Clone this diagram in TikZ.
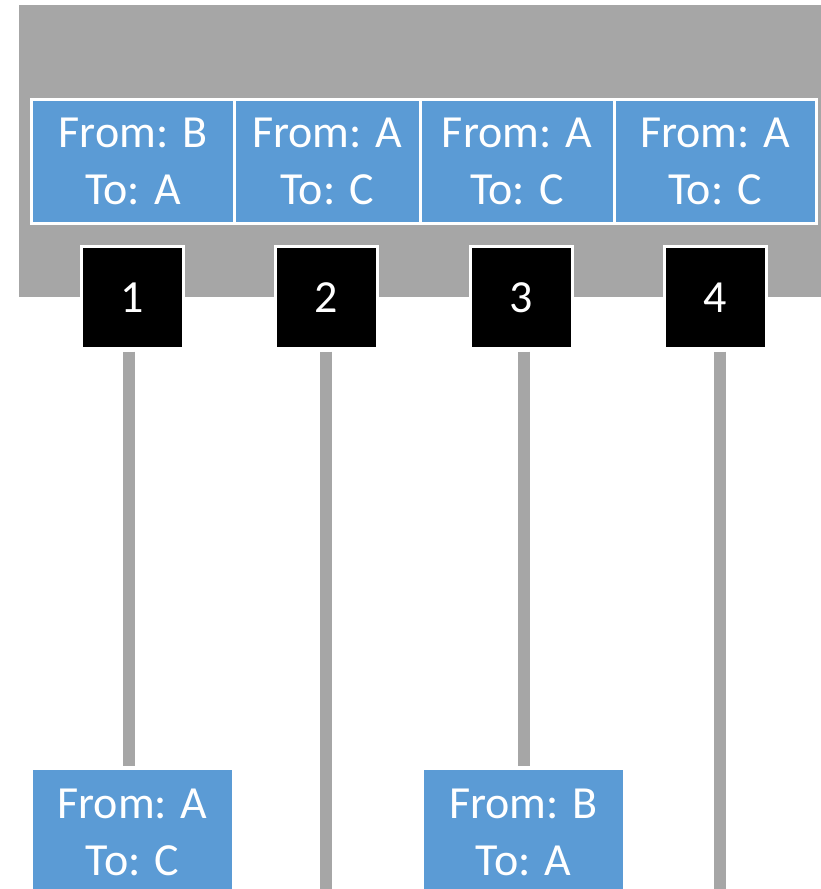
\documentclass[tikz,border=0pt]{standalone}
\usepackage{fontspec}
\setmainfont{Carlito}
\usetikzlibrary{positioning}
\definecolor{Slot}{HTML}{A6A6A6}
\definecolor{Msg}{HTML}{5B9BD5}

\begin{document}
\begin{tikzpicture}[x=1pt, y=-1pt, every node/.style={font=\fontsize{46}{57}\selectfont, text=white, inner sep=0pt, outer sep=0pt, align=center}]
  \useasboundingbox (0,0) rectangle (821,889);
  \clip (0,0) rectangle (821,889);
  \fill[Slot] (19,5) rectangle (821,297);
  % queue slots
  \node[fill=Msg, draw=white, line width=3pt, minimum width=203pt, minimum height=124pt] (q1) at (133,161.5) {From: B\\To: A};
  \node[fill=Msg, draw=white, line width=3pt, minimum width=185.5pt, minimum height=124pt, right=0pt of q1] (q2) {From: A\\To: C};
  \node[fill=Msg, draw=white, line width=3pt, minimum width=194pt, minimum height=124pt, right=0pt of q2] (q3) {From: A\\To: C};
  \node[fill=Msg, draw=white, line width=3pt, minimum width=202.5pt, minimum height=124pt, right=0pt of q3] (q4) {From: A\\To: C};
  % ports
  \node[fill=black, draw=white, line width=3pt, minimum size=102pt] (p1) at (132.5,297.5) {1};
  \node[fill=black, draw=white, line width=3pt, minimum size=102pt] (p2) at (326.5,297.5) {2};
  \node[fill=black, draw=white, line width=3pt, minimum size=102pt] (p3) at (521,297.5) {3};
  \node[fill=black, draw=white, line width=3pt, minimum size=102pt] (p4) at (715.5,297.5) {4};
  % received messages
  \node[fill=Msg, minimum width=199pt, minimum height=124pt] (r1) at (132.5,832) {From: A\\To: C};
  \node[fill=Msg, minimum width=199pt, minimum height=124pt] (r3) at (523.5,832) {From: B\\To: A};
  \coordinate (e2) at (326,889);
  \coordinate (e4) at (720,889);
  \draw[Slot, line width=12pt, shorten <=3pt, shorten >=4pt] ([xshift=-3.5pt]p1.south) -- ([xshift=-3.5pt]p1.south |- r1.north);
  \draw[Slot, line width=12pt, shorten <=3pt] (e2 |- p2.south) -- (e2);
  \draw[Slot, line width=12pt, shorten <=3pt, shorten >=4pt] (r3.north |- p3.south) -- (r3.north);
  \draw[Slot, line width=12pt, shorten <=3pt] (e4 |- p4.south) -- (e4);
\end{tikzpicture}
\end{document}
